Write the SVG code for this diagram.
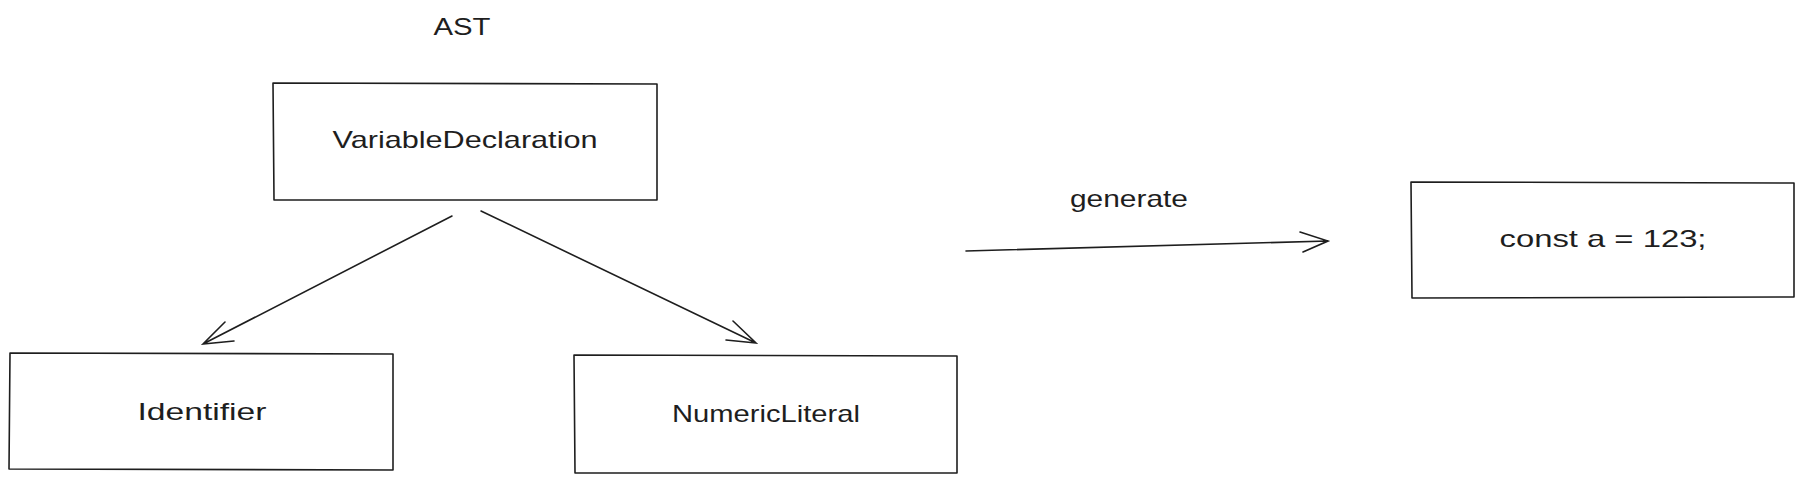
<svg xmlns="http://www.w3.org/2000/svg" width="1804" height="482" viewBox="0 0 1804 482">
<style>
.box{fill:none;stroke:#1e1e1e;stroke-width:1.6;stroke-linejoin:round}
.line{fill:none;stroke:#1e1e1e;stroke-width:1.6;stroke-linecap:round}
.t{font-family:"Liberation Sans",Arial,sans-serif;font-size:24px;fill:#1e1e1e;text-anchor:middle}
</style>
<rect width="1804" height="482" fill="#ffffff"/>
<g id="label-ast"><text class="t" x="462" y="35" textLength="57" lengthAdjust="spacingAndGlyphs">AST</text></g>
<g id="node-variable-declaration">
<path class="box" d="M273 83 L657 84 L657 200 L274 200 Z"/>
<text class="t" x="465" y="148" textLength="265" lengthAdjust="spacingAndGlyphs">VariableDeclaration</text>
</g>
<g id="node-identifier">
<path class="box" d="M10 353 L393 354 L393 470 L9 469 Z"/>
<text class="t" x="202" y="420" textLength="129" lengthAdjust="spacingAndGlyphs">Identifier</text>
</g>
<g id="node-numeric-literal">
<path class="box" d="M574 355 L957 356 L957 473 L575 473 Z"/>
<text class="t" x="766" y="422" textLength="188" lengthAdjust="spacingAndGlyphs">NumericLiteral</text>
</g>
<g id="node-output">
<path class="box" d="M1411 182 L1794 183 L1794 297 L1412 298 Z"/>
<text class="t" x="1603" y="247" textLength="207" lengthAdjust="spacingAndGlyphs">const a = 123;</text>
</g>
<g id="label-generate"><text class="t" x="1129" y="207" textLength="118" lengthAdjust="spacingAndGlyphs">generate</text></g>
<g id="connectors">
<path class="line" d="M452 216 L203 344 M225 322 L203 344 L234 341"/>
<path class="line" d="M481 211 L756 343 M733 321 L756 343 L726 340"/>
<path class="line" d="M966 251 L1328 241 M1300 232 L1328 241 L1303 252"/>
</g>
</svg>
